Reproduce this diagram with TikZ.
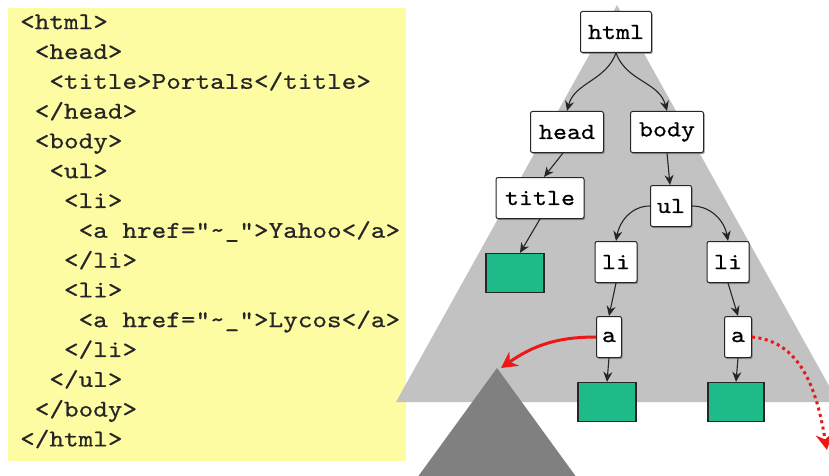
\documentclass[tikz,border=0pt]{standalone}
\usepackage{fontspec}
\usetikzlibrary{arrows.meta,shadows}
% wide, slightly heavy typewriter face for the markup and the tag names
\newfontfamily\codefont{lmmono10-regular.otf}[FakeStretch=1.16,FakeBold=0.6]
\definecolor{notepad}{RGB}{254,252,162}
\definecolor{lightgrey}{RGB}{194,194,194}
\definecolor{darkgrey}{RGB}{128,128,128}
\definecolor{leafgreen}{RGB}{30,186,138}
\definecolor{linkred}{RGB}{236,24,24}
\tikzset{
  codetext/.style={anchor=mid west, inner sep=0pt, font=\codefont\fontsize{24}{24}\selectfont, text=black!85},
  tag/.style={draw=black!85, line width=1pt, rounded corners=2pt, fill=white,
    font=\codefont\fontsize{23}{23}\selectfont, inner sep=0pt, minimum height=41pt,
    drop shadow={shadow xshift=1.2pt, shadow yshift=-1.5pt, fill=black!55, opacity=0.7}},
  leaf/.style={draw=black!85, line width=1.2pt, fill=leafgreen, inner sep=0pt, minimum height=39pt},
  edge/.style={line width=1.1pt, black!85, -{Stealth[length=10pt,width=9pt]}},
  hop/.style={line width=3pt, linkred, -{Stealth[length=16pt,width=17pt]}},
}
% one line of the HTML listing: name, indent (characters), row, text
\newcommand\codeline[4]{\node[codetext] (#1) at ({20+14.6*#2},{27+29.8*#3}) {#4};}
\begin{document}
\begin{tikzpicture}[x=1pt,y=-1pt]
\useasboundingbox (0,0) rectangle (829,476);
\clip (0,0) rectangle (829,476);

% source listing
\fill[notepad] (8,8) rectangle (406,461);
\codeline{l1}{0}{0}{<html>}
\codeline{l2}{1}{1}{<head>}
\codeline{l3}{2}{2}{<title>Portals</title>}
\codeline{l4}{1}{3}{</head>}
\codeline{l5}{1}{4}{<body>}
\codeline{l6}{2}{5}{<ul>}
\codeline{l7}{3}{6}{<li>}
\codeline{l8}{4}{7}{<a href="\textasciitilde\_">Yahoo</a>}
\codeline{l9}{3}{8}{</li>}
\codeline{l10}{3}{9}{<li>}
\codeline{l11}{4}{10}{<a href="\textasciitilde\_">Lycos</a>}
\codeline{l12}{3}{11}{</li>}
\codeline{l13}{2}{12}{</ul>}
\codeline{l14}{1}{13}{</body>}
\codeline{l15}{0}{14}{</html>}

% document tree backdrop and linked subtree
\fill[lightgrey] (617,5) -- (396,402) -- (838,402) -- cycle;
\fill[darkgrey] (497,368) -- (417,478) -- (577,478) -- cycle;

% element nodes
\node[tag, minimum width=71pt] (html) at (616,32) {html};
\node[tag, minimum width=73pt] (head) at (567,132) {head};
\node[tag, minimum width=73pt] (body) at (667,132) {body};
\node[tag, minimum width=88pt] (title) at (540,198) {title};
\node[tag, minimum width=41pt] (ul) at (671,206) {ul};
\node[tag, minimum width=42pt] (li1) at (616,262) {li};
\node[tag, minimum width=42pt] (li2) at (728,262) {li};
\node[tag, minimum width=25pt] (a1) at (609,337) {a};
\node[tag, minimum width=27pt] (a2) at (738,337) {a};

% text leaves
\node[leaf, minimum width=58pt] (t0) at (515,273) {};
\node[leaf, minimum width=58pt] (t1) at (607,402) {};
\node[leaf, minimum width=56pt] (t2) at (736,402) {};

% parent-child edges
\draw[edge] (html.south) to[out=-110,in=75] (head.north);
\draw[edge] (html.south) to[out=-70,in=105] (body.north);
\draw[edge] ([xshift=-4pt]head.south) -- ([xshift=4pt]title.north);
\draw[edge] (body.south) -- ([xshift=-1pt]ul.north);
\draw[edge] (ul.west) to[out=180,in=80] (li1.north);
\draw[edge] (ul.east) to[out=0,in=100] (li2.north);
\draw[edge] (title.south) -- ([xshift=5pt]t0.north);
\draw[edge] (li1.south) -- (a1.north);
\draw[edge] (li2.south) -- (a2.north);
\draw[edge] (a1.south) -- (t1.north);
\draw[edge] (a2.south) -- (t2.north);

% hyperlinks
\coordinate (sub) at (501,368);
\coordinate (away) at (827,450);
\draw[hop] (a1.west) to[out=180,in=35] (sub);
\draw[hop, dash pattern=on 3pt off 3.5pt] (a2.east) to[out=-5,in=100] (away);
\end{tikzpicture}
\end{document}
